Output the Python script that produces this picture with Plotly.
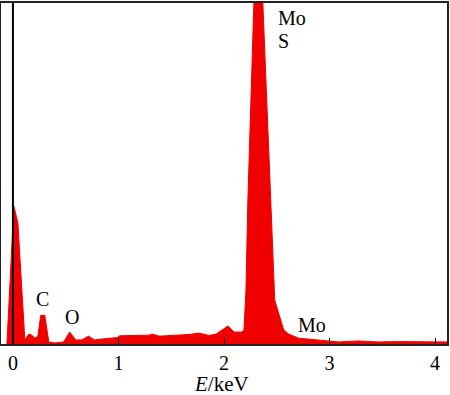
import plotly.graph_objects as go

# EDS spectrum (energy in keV, counts in arbitrary units, axis top = 100)
energy = [-0.057, 0.009, 0.047, 0.104, 0.113, 0.151, 0.179, 0.208, 0.236, 0.264, 0.302, 0.340,
          0.396, 0.481, 0.538, 0.594, 0.651, 0.717, 0.774, 0.821, 0.991, 1.009, 1.292, 1.321,
          1.387, 1.670, 1.764, 1.858, 1.925, 2.038, 2.094, 2.170, 2.189, 2.208, 2.226, 2.283,
          2.321, 2.368, 2.441, 2.481, 2.566, 2.613, 2.708, 2.802, 2.896, 3.085, 3.274, 3.462,
          3.651, 3.840, 4.113]
counts = [0.0, 40.4, 35.5, 2.3, 1.2, 2.9, 2.6, 1.7, 2.3, 8.4, 8.4, 0.6,
          0.3, 0.6, 3.5, 1.2, 1.2, 2.3, 1.2, 1.4, 1.9, 2.4, 2.6, 2.9,
          2.3, 2.8, 3.2, 2.5, 2.9, 5.3, 3.5, 3.5, 4.1, 15.7, 41.9, 100.0,
          129.0, 100.0, 41.9, 12.8, 4.1, 2.9, 1.7, 1.4, 1.2, 0.6, 0.9, 0.6,
          0.7, 0.6, 0.6]

tick_vals = [0, 1, 2, 3, 4]
tick_text = ["0", "1", "2", "3", "4"]

peak_labels = ["Mo", "S", "C", "O", "Mo"]
peak_x = [2.49, 2.49, 0.283, 0.557, 2.679]
peak_y = [95.6, 89.0, 13.1, 7.8, 5.5]
peak_anchor = ["left", "left", "center", "center", "left"]

x_title = "<i>E</i>/keV"

RED = "rgb(240,0,0)"
FONT = "Liberation Serif"

fig = go.Figure()
fig.add_trace(go.Scatter(x=energy, y=counts, mode="lines", fill="tozeroy",
                         line=dict(color=RED, width=1), fillcolor=RED,
                         hoverinfo="skip", showlegend=False))

for t, x, y, a in zip(peak_labels, peak_x, peak_y, peak_anchor):
    fig.add_annotation(x=x, y=y, text=t, showarrow=False, xanchor=a, yanchor="middle",
                       font=dict(family=FONT, size=20, color="black"))

# axis title placed just below the tick labels
fig.add_annotation(x=0.495, y=-0.117, xref="paper", yref="paper", text=x_title,
                   showarrow=False, xanchor="center", yanchor="middle",
                   font=dict(family=FONT, size=21, color="black"))

fig.add_shape(type="line", xref="x", yref="paper", x0=0, x1=0, y0=0, y1=1,
              line=dict(color="black", width=2), layer="above")

fig.update_layout(
    width=450, height=395,
    margin=dict(l=1, r=1, t=1, b=51),
    paper_bgcolor="white", plot_bgcolor="white",
    font=dict(family=FONT, size=20, color="black"),
    xaxis=dict(range=[-0.113, 4.113], tickvals=tick_vals, ticktext=tick_text,
               ticks="inside", ticklen=6, tickwidth=1, tickcolor="black",
               showline=True, linecolor="#222", linewidth=2, mirror=True,
               showgrid=False, zeroline=False, layer="above traces",
               tickfont=dict(family=FONT, size=20, color="black")),
    yaxis=dict(range=[0, 100], showticklabels=False, ticks="",
               showline=True, linecolor="#222", linewidth=2, mirror=True,
               showgrid=False, zeroline=False, layer="above traces"),
)

fig.write_html("out.html", config={"displayModeBar": False},
               post_script="document.body.style.margin='0';document.body.style.overflow='hidden';")
